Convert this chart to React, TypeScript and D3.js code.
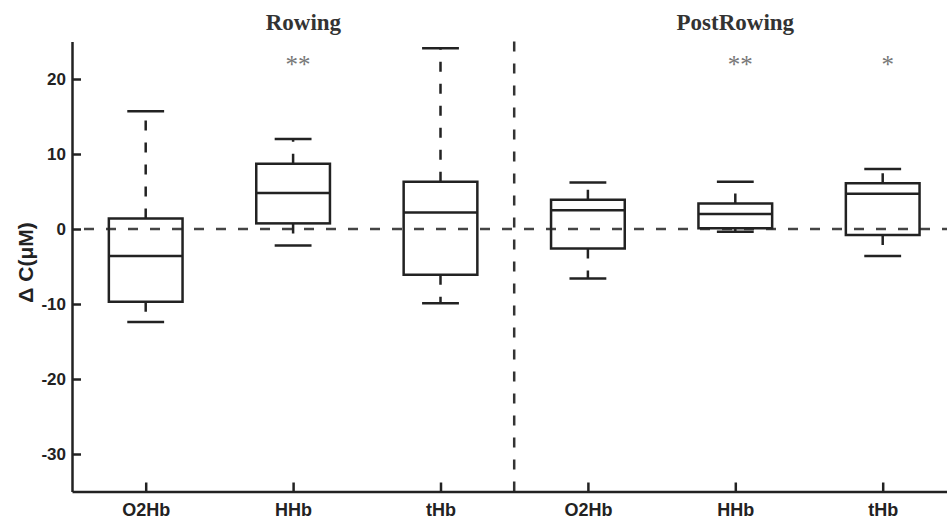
import React, { useRef, useEffect } from 'react';
import * as d3 from 'd3';

// ---- data ----
const categories = ['O2Hb', 'HHb', 'tHb', 'O2Hb', 'HHb', 'tHb'];
const phases = ['Rowing', 'PostRowing'];
const phaseTitleAt = [2.07, 5.0];
const lowerWhisker = [-12.4, -2.2, -9.9, -6.6, -0.35, -3.6];
const q1 = [-9.7, 0.75, -6.1, -2.6, 0.1, -0.8];
const medians = [-3.6, 4.8, 2.2, 2.5, 2.0, 4.7];
const q3 = [1.4, 8.7, 6.3, 3.9, 3.4, 6.1];
const upperWhisker = [15.7, 12.0, 24.1, 6.2, 6.3, 8.0];
const significance = ['', '**', '', '', '**', '*'];
const yTicks = [-30, -20, -10, 0, 10, 20];

type BoxDatum = {
  idx: number;
  label: string;
  lo: number;
  q1: number;
  med: number;
  q3: number;
  hi: number;
  sig: string;
};

const boxes: BoxDatum[] = categories.map((label, i) => ({
  idx: i + 1,
  label,
  lo: lowerWhisker[i],
  q1: q1[i],
  med: medians[i],
  q3: q3[i],
  hi: upperWhisker[i],
  sig: significance[i],
}));

const W = 947;
const H = 525;

const App: React.FC = () => {
  const svgRef = useRef<SVGSVGElement>(null);

  useEffect(() => {
    const svgEl = svgRef.current;
    if (!svgEl) return;
    const svg = d3.select(svgEl);
    svg.selectAll('*').remove();

    const ink = '#222';
    const dash = '10,12';
    const lw = 2.5;

    /* ---------- Scales ---------- */
    const axisX = 72;
    const spacing = 147.4;
    const x = d3.scaleLinear().domain([0.5, 6.5]).range([axisX, axisX + spacing * 6]);
    const y = d3.scaleLinear().domain([-35, 25]).range([491.5, 41.5]);
    const boxHalf = 0.25;
    const capHalf = 0.125;

    /* ---------- Zero line and phase divider ---------- */
    svg
      .append('line')
      .attr('x1', x(0.5) + 12)
      .attr('x2', W)
      .attr('y1', y(0))
      .attr('y2', y(0))
      .attr('stroke', '#444')
      .attr('stroke-width', lw)
      .attr('stroke-dasharray', dash);

    svg
      .append('line')
      .attr('x1', x(3.5))
      .attr('x2', x(3.5))
      .attr('y1', y(25))
      .attr('y2', y(-35))
      .attr('stroke', '#333')
      .attr('stroke-width', lw)
      .attr('stroke-dasharray', dash);

    /* ---------- Boxes ---------- */
    const g = svg.append('g').attr('class', 'boxes');
    const box = g
      .selectAll('g.box')
      .data(boxes)
      .enter()
      .append('g')
      .attr('class', 'box');

    // whiskers (dashed)
    box
      .append('line')
      .attr('x1', (d) => x(d.idx))
      .attr('x2', (d) => x(d.idx))
      .attr('y1', (d) => y(d.q3))
      .attr('y2', (d) => y(d.hi))
      .attr('stroke', ink)
      .attr('stroke-width', lw)
      .attr('stroke-dasharray', dash);
    box
      .append('line')
      .attr('x1', (d) => x(d.idx))
      .attr('x2', (d) => x(d.idx))
      .attr('y1', (d) => y(d.q1))
      .attr('y2', (d) => y(d.lo))
      .attr('stroke', ink)
      .attr('stroke-width', lw)
      .attr('stroke-dasharray', dash);

    // caps
    box
      .selectAll('line.cap')
      .data((d) => [
        { idx: d.idx, v: d.hi },
        { idx: d.idx, v: d.lo },
      ])
      .enter()
      .append('line')
      .attr('class', 'cap')
      .attr('x1', (c) => x(c.idx - capHalf))
      .attr('x2', (c) => x(c.idx + capHalf))
      .attr('y1', (c) => y(c.v))
      .attr('y2', (c) => y(c.v))
      .attr('stroke', ink)
      .attr('stroke-width', lw);

    box
      .append('rect')
      .attr('x', (d) => x(d.idx - boxHalf))
      .attr('width', (d) => x(d.idx + boxHalf) - x(d.idx - boxHalf))
      .attr('y', (d) => y(d.q3))
      .attr('height', (d) => y(d.q1) - y(d.q3))
      .attr('fill', 'none')
      .attr('stroke', ink)
      .attr('stroke-width', lw);

    box
      .append('line')
      .attr('x1', (d) => x(d.idx - boxHalf))
      .attr('x2', (d) => x(d.idx + boxHalf))
      .attr('y1', (d) => y(d.med))
      .attr('y2', (d) => y(d.med))
      .attr('stroke', ink)
      .attr('stroke-width', lw);

    /* ---------- Significance marks ---------- */
    svg
      .selectAll('text.sig')
      .data(boxes.filter((d) => d.sig))
      .enter()
      .append('text')
      .attr('class', 'sig')
      .attr('x', (d) => x(d.idx) + 5)
      .attr('y', 73)
      .attr('text-anchor', 'middle')
      .style('font-family', '"Liberation Serif", serif')
      .style('font-size', '25px')
      .style('fill', '#777')
      .text((d) => d.sig);

    /* ---------- Phase titles ---------- */
    svg
      .selectAll('text.phase')
      .data(phases)
      .enter()
      .append('text')
      .attr('class', 'phase')
      .attr('x', (_d, i) => x(phaseTitleAt[i]))
      .attr('y', 30)
      .attr('text-anchor', 'middle')
      .style('font-family', '"Liberation Serif", serif')
      .style('font-weight', 'bold')
      .style('font-size', '23px')
      .style('fill', '#333')
      .text((d) => d);

    /* ---------- Axes ---------- */
    const yAxis = d3
      .axisLeft(y)
      .tickValues(yTicks)
      .tickSizeInner(-9)
      .tickSizeOuter(0)
      .tickPadding(6)
      .tickFormat((d) => `${d}`);
    const yG = svg.append('g').attr('transform', `translate(${axisX},0)`).call(yAxis);

    const xAxis = d3
      .axisBottom(x)
      .tickValues(boxes.map((d) => d.idx))
      .tickSizeInner(-9)
      .tickSizeOuter(0)
      .tickPadding(12)
      .tickFormat((_d, i) => categories[i]);
    const xG = svg.append('g').attr('transform', `translate(0,${y(-35)})`).call(xAxis);

    [yG, xG].forEach((ax) => {
      ax.select('.domain').attr('stroke', ink).attr('stroke-width', lw);
      ax.selectAll('.tick line').attr('stroke', ink).attr('stroke-width', lw);
      ax.selectAll('.tick text')
        .style('font-family', '"Liberation Sans", Arial, sans-serif')
        .style('font-weight', 'bold')
        .style('font-size', '17px')
        .style('fill', '#222');
    });
    xG.selectAll('.tick text').style('font-size', '18px');

    /* ---------- Y label ---------- */
    svg
      .append('text')
      .attr('transform', `translate(33,${(y(25) + y(-35)) / 2 - 4}) rotate(-90)`)
      .attr('text-anchor', 'middle')
      .style('font-family', '"Liberation Sans", Arial, sans-serif')
      .style('font-weight', 'bold')
      .style('font-size', '21px')
      .style('fill', '#222')
      .text('\u0394 C(\u03bcM)');
  }, []);

  return (
    <svg
      ref={svgRef}
      width={W}
      height={H}
      style={{ position: 'absolute', left: 0, top: 0, background: '#fff' }}
    />
  );
};

export default App;
